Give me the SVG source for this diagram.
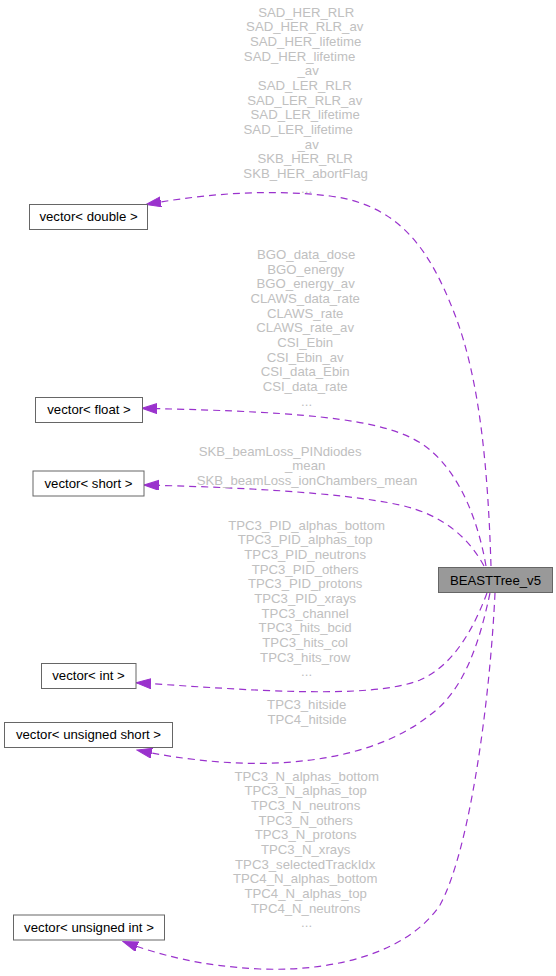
<svg xmlns="http://www.w3.org/2000/svg" width="556" height="976" viewBox="0 0 556 976">
<style>
  .node rect { fill: #ffffff; stroke: #666666; stroke-width: 1; }
  .node.main rect { fill: #999999; }
  .node text { font-family: "Liberation Sans", Arial, sans-serif; font-size: 13.2px; fill: #000000; text-anchor: middle; }
  .edge { fill: none; stroke: #9a32cd; stroke-width: 1.2; stroke-dasharray: 7,5; }
  .lbl { font-family: "Liberation Sans", Arial, sans-serif; font-size: 13.2px; fill: #c0c0c0; text-anchor: middle; }
</style>
<defs>
  <marker id="arr" markerUnits="userSpaceOnUse" markerWidth="16" markerHeight="12" refX="15" refY="5" orient="auto">
    <path d="M0,0 L15,5 L0,10 z" fill="#9a32cd" stroke="#9a32cd" stroke-width="1"/>
  </marker>
</defs>

<g id="edges">
  <path id="e_double" class="edge" marker-end="url(#arr)" d="M491,566 C488,470 480,380 455,315 C430,250 400,205 330,196 C270,189 210,193 146,204.5"/>
  <path id="e_float" class="edge" marker-end="url(#arr)" d="M486,566 C478,520 460,475 430,450 C395,420 320,412 142,408.3"/>
  <path id="e_short" class="edge" marker-end="url(#arr)" d="M484,566 C470,540 445,515 400,505 C340,492 230,487 144,485"/>
  <path id="e_int" class="edge" marker-end="url(#arr)" d="M487,593 C475,625 455,665 420,680 C370,700 250,690 136,682.7"/>
  <path id="e_ushort" class="edge" marker-end="url(#arr)" d="M490,593 C480,640 465,690 430,715 C380,755 300,768 220,762 C185,759 160,755 137,750"/>
  <path id="e_uint" class="edge" marker-end="url(#arr)" d="M495,593 C490,700 470,850 440,905 C410,950 340,972 260,969 C200,966 160,955 123,941.5"/>
</g>

<g id="labels">
  <text class="lbl">
    <tspan x="308" y="16.7">SAD_HER_RLR</tspan>
    <tspan x="306.6" dy="14.67">SAD_HER_RLR_av</tspan>
    <tspan x="307.5" dy="14.67">SAD_HER_lifetime</tspan>
    <tspan x="301.4" dy="14.67">SAD_HER_lifetime</tspan>
    <tspan x="310" dy="14.67">_av</tspan>
    <tspan x="306.6" dy="14.67">SAD_LER_RLR</tspan>
    <tspan x="306.6" dy="14.67">SAD_LER_RLR_av</tspan>
    <tspan x="307" dy="14.67">SAD_LER_lifetime</tspan>
    <tspan x="300" dy="14.67">SAD_LER_lifetime</tspan>
    <tspan x="310" dy="14.67">_av</tspan>
    <tspan x="307" dy="14.67">SKB_HER_RLR</tspan>
    <tspan x="307.5" dy="14.67">SKB_HER_abortFlag</tspan>
    <tspan x="306.6" dy="14.67">...</tspan>
  </text>
  <text class="lbl">
    <tspan x="308" y="259">BGO_data_dose</tspan>
    <tspan x="307.5" dy="14.67">BGO_energy</tspan>
    <tspan x="307.5" dy="14.67">BGO_energy_av</tspan>
    <tspan x="307" dy="14.67">CLAWS_data_rate</tspan>
    <tspan x="307" dy="14.67">CLAWS_rate</tspan>
    <tspan x="307" dy="14.67">CLAWS_rate_av</tspan>
    <tspan x="307" dy="14.67">CSI_Ebin</tspan>
    <tspan x="307" dy="14.67">CSI_Ebin_av</tspan>
    <tspan x="307" dy="14.67">CSI_data_Ebin</tspan>
    <tspan x="307" dy="14.67">CSI_data_rate</tspan>
    <tspan x="306.6" dy="14.67">...</tspan>
  </text>
  <text class="lbl">
    <tspan x="282" y="455.5">SKB_beamLoss_PINdiodes</tspan>
    <tspan x="307" dy="14.67">_mean</tspan>
    <tspan x="307" dy="14.67">SKB_beamLoss_ionChambers_mean</tspan>
  </text>
  <text class="lbl">
    <tspan x="308.5" y="529.5">TPC3_PID_alphas_bottom</tspan>
    <tspan x="307" dy="14.67">TPC3_PID_alphas_top</tspan>
    <tspan x="307" dy="14.67">TPC3_PID_neutrons</tspan>
    <tspan x="307" dy="14.67">TPC3_PID_others</tspan>
    <tspan x="307" dy="14.67">TPC3_PID_protons</tspan>
    <tspan x="307" dy="14.67">TPC3_PID_xrays</tspan>
    <tspan x="307" dy="14.67">TPC3_channel</tspan>
    <tspan x="307" dy="14.67">TPC3_hits_bcid</tspan>
    <tspan x="307" dy="14.67">TPC3_hits_col</tspan>
    <tspan x="307" dy="14.67">TPC3_hits_row</tspan>
    <tspan x="306.6" dy="14.67">...</tspan>
  </text>
  <text class="lbl">
    <tspan x="308.5" y="709">TPC3_hitside</tspan>
    <tspan x="307" dy="14.67">TPC4_hitside</tspan>
  </text>
  <text class="lbl">
    <tspan x="308.5" y="780.5">TPC3_N_alphas_bottom</tspan>
    <tspan x="307.5" dy="14.67">TPC3_N_alphas_top</tspan>
    <tspan x="307.5" dy="14.67">TPC3_N_neutrons</tspan>
    <tspan x="307.5" dy="14.67">TPC3_N_others</tspan>
    <tspan x="307.5" dy="14.67">TPC3_N_protons</tspan>
    <tspan x="307.5" dy="14.67">TPC3_N_xrays</tspan>
    <tspan x="307" dy="14.67">TPC3_selectedTrackIdx</tspan>
    <tspan x="307" dy="14.67">TPC4_N_alphas_bottom</tspan>
    <tspan x="307.5" dy="14.67">TPC4_N_alphas_top</tspan>
    <tspan x="307.5" dy="14.67">TPC4_N_neutrons</tspan>
    <tspan x="306.6" dy="14.67">...</tspan>
  </text>
</g>

<g id="node_main" class="node main">
  <rect x="438.5" y="567.5" width="114" height="25"/>
  <text x="495.5" y="584.5">BEASTTree_v5</text>
</g>
<g id="node_double" class="node">
  <rect x="29.5" y="204.5" width="118" height="25"/>
  <text x="88.5" y="221">vector&lt; double &gt;</text>
</g>
<g id="node_float" class="node">
  <rect x="35.5" y="397.5" width="107" height="25"/>
  <text x="89" y="414">vector&lt; float &gt;</text>
</g>
<g id="node_short" class="node">
  <rect x="33" y="471" width="111" height="25"/>
  <text x="88.5" y="487.5">vector&lt; short &gt;</text>
</g>
<g id="node_int" class="node">
  <rect x="41.5" y="663.5" width="94.5" height="25"/>
  <text x="88.5" y="680">vector&lt; int &gt;</text>
</g>
<g id="node_ushort" class="node">
  <rect x="4.5" y="722.5" width="168" height="25"/>
  <text x="88.5" y="739">vector&lt; unsigned short &gt;</text>
</g>
<g id="node_uint" class="node">
  <rect x="13.5" y="915" width="151" height="25"/>
  <text x="89" y="931.5">vector&lt; unsigned int &gt;</text>
</g>
</svg>
